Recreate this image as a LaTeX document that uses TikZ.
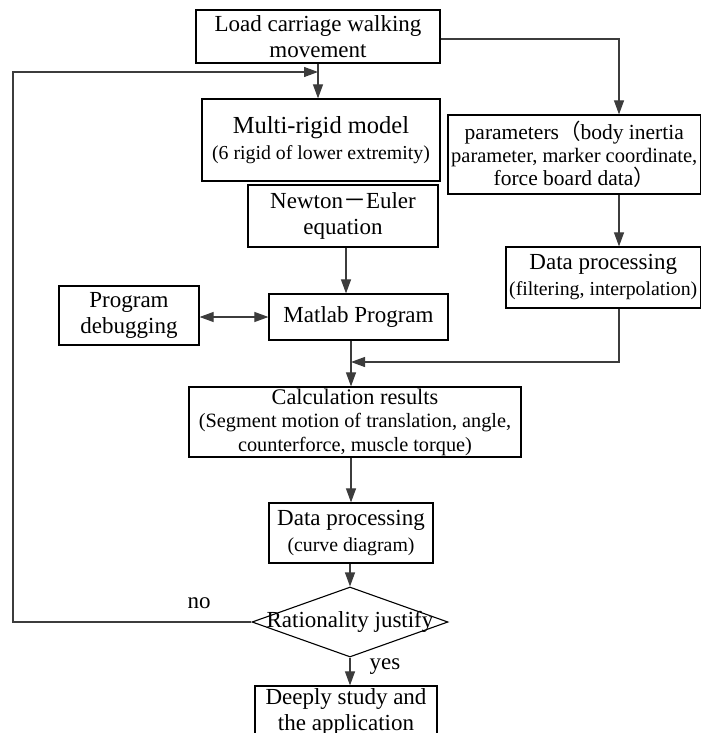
\documentclass[tikz,border=0pt]{standalone}
\usepackage{fontspec}
\setmainfont{Liberation Serif}
\newfontfamily\cjk{Noto Sans CJK SC}
\usetikzlibrary{shapes.geometric,arrows.meta,calc}
\definecolor{ln}{RGB}{60,60,60}
\newcommand\mainsz{\fontsize{23}{26}\selectfont}
\newcommand\bigsz{\fontsize{24.5}{26}\selectfont}
\newcommand\subsz{\fontsize{19.8}{24}\selectfont}
\newcommand\calsz{\fontsize{20.3}{23.5}\selectfont}
\newcommand\prmsz{\fontsize{21.5}{22.5}\selectfont}
\newcommand\prmszb{\fontsize{20.5}{22.5}\selectfont}
\tikzset{
  box/.style={draw=black, line width=1.2pt, inner sep=0pt, align=center, font=\mainsz},
  conn/.style={draw=ln, line width=1.1pt, -{Triangle[length=14pt,width=10pt]}},
  dconn/.style={draw=ln, line width=1.1pt, {Triangle[length=14pt,width=10pt]}-{Triangle[length=14pt,width=10pt]}},
  dia/.style={draw=black, line width=1.1pt, shape=diamond, minimum width=196pt, minimum height=70pt, inner sep=0pt},
  lbl/.style={font=\mainsz, inner sep=0pt}
}
\begin{document}
\begin{tikzpicture}[x=1pt,y=-1pt]
\path[use as bounding box] (0,0) rectangle (702,733);
\clip (0,0) rectangle (702,733);

\node[box, minimum width=244pt, minimum height=53pt] (load) at (318,36.5) {Load carriage walking\\movement};
\node[box, minimum width=238pt, minimum height=82pt, font=\bigsz] (multi) at (321,140) {Multi-rigid model\\\subsz (6 rigid of lower extremity)};
\node[box, minimum width=252.5pt, minimum height=79pt, font=\prmsz] (params) at (574.25,154.5) {parameters{\cjk （}body inertia\\\prmszb parameter, marker coordinate,\\force board data{\cjk ）}};
\node[box, minimum width=190pt, minimum height=62pt] (newton) at (343,216) {Newton{\cjk －}Euler\\equation};
\node[box, minimum width=194.5pt, minimum height=61pt] (dp1) at (603.25,277.5) {Data processing\\\subsz (filtering, interpolation)};
\node[box, minimum width=179pt, minimum height=46pt] (matlab) at (358.5,317) {Matlab Program};
\node[box, minimum width=140pt, minimum height=59pt] (debug) at (129,315.5) {Program\\debugging};
\node[box, minimum width=332pt, minimum height=70pt, font=\calsz] (calc) at (355,422) {\fontsize{22.3}{25}\selectfont Calculation results\\(Segment motion of translation, angle,\\counterforce, muscle torque)};
\node[box, minimum width=164pt, minimum height=60pt] (dp2) at (351,533) {Data processing\\\subsz (curve diagram)};
\node[dia] (dia) at (350,622) {};
\node[lbl] (diat) at (dia.center) {Rationality justify};
\node[box, minimum width=182pt, minimum height=52pt] (deep) at (346,712) {Deeply study and\\the application};
\node[lbl] (no) at (199,603) {no};
\node[lbl] (yes) at (385,667) {yes};

\coordinate (xr) at (619,0);
\coordinate (xn) at (346,0);
\coordinate (xm) at (351,0);
\coordinate (xl) at (13,0);
\coordinate (yf) at (0,72);
\coordinate (yj) at (0,362);
\coordinate (yt) at (0,39);

\draw[conn] (load.east |- yt) -| (params.north -| xr);
\draw[conn] (load.south) -- (multi.north -| load.south);
\draw[conn] (params.south -| xr) -- (dp1.north -| xr);
\draw[conn] (newton.south -| xn) -- (matlab.north -| xn);
\draw[conn] (matlab.south -| xm) -- (calc.north -| xm);
\draw[dconn] (debug.east |- matlab.west) -- (matlab.west);
\draw[conn] (dp1.south -| xr) |- (yj -| xm);
\draw[conn] (calc.south -| xm) -- (dp2.north -| xm);
\draw[conn] (dp2.south -| dia.north) -- (dia.north);
\draw[conn] (dia.west) -| (xl |- yf) -- (load.south |- yf);
\draw[conn] (dia.south) -- (deep.north -| dia.south);
\end{tikzpicture}
\end{document}
